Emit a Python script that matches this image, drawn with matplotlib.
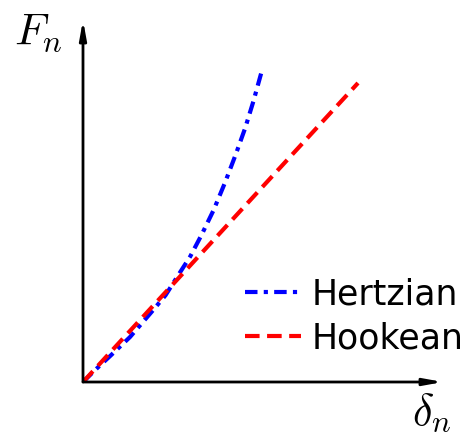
import numpy as np
import matplotlib.pyplot as plt

plt.rcParams['mathtext.fontset'] = 'cm'

# Force-displacement curves (arbitrary units)
delta_hooke = [0.0, 1.0]
force_hooke = [0.0, 1.0]

delta_hertz = [0.0, 0.044, 0.10, 0.171, 0.25, 0.30, 0.342, 0.39, 0.43, 0.475, 0.516,
               0.555, 0.59, 0.62, 0.651]
force_hertz = [0.0, 0.040, 0.088, 0.1505, 0.235, 0.29, 0.351, 0.42, 0.49, 0.575, 0.666,
               0.76, 0.85, 0.94, 1.043]

fig = plt.figure(figsize=(4.69, 4.38), dpi=100)
ax = fig.add_axes([83 / 469, 56 / 438, 360 / 469, 362 / 438])
ax.set_xlim(0, 360 / 275)
ax.set_ylim(0, 362 / 299)

ax.plot(delta_hertz, force_hertz, color='blue', lw=3, linestyle=(0, (3, 1.5, 1, 1.5)),
        label='Hertzian')
ax.plot(delta_hooke, force_hooke, color='red', lw=3, linestyle=(0, (3.5, 1.8)),
        label='Hookean')

# axes drawn as arrows
for s in ax.spines.values():
    s.set_visible(False)
ax.set_xticks([])
ax.set_yticks([])
arrow = dict(arrowstyle='-|>,head_length=1.1,head_width=0.2', color='black', lw=2,
             shrinkA=0, shrinkB=0)
ax.annotate('', xy=(1, 0), xytext=(0, 0), xycoords='axes fraction', arrowprops=arrow,
            annotation_clip=False)
ax.annotate('', xy=(0, 1), xytext=(0, 0), xycoords='axes fraction', arrowprops=arrow,
            annotation_clip=False)

fig.text(38 / 469, 1 - 33 / 438, r'$F_n$', fontsize=32, ha='center', va='center')
fig.text(432 / 469, 1 - 413 / 438, r'$\delta_n$', fontsize=32, ha='center', va='center')

ax.legend(loc='lower right', bbox_to_anchor=(1.095, 0.035), frameon=False, fontsize=25,
          handlelength=1.6, handletextpad=0.3, labelspacing=0.3, borderaxespad=0)

plt.savefig('out.png')
